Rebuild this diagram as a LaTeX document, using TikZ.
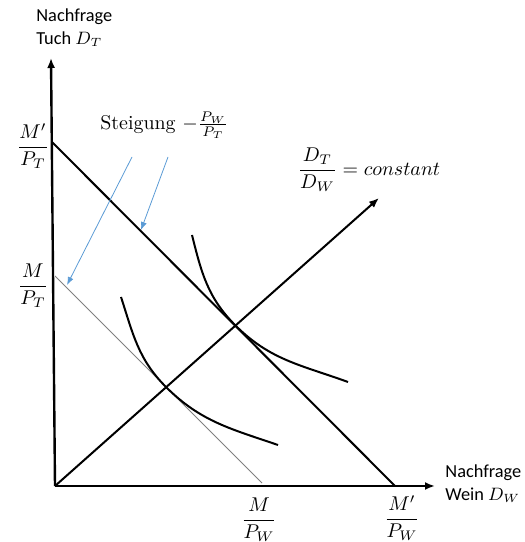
\documentclass[tikz,border=0pt]{standalone}
\usepackage{fontspec}
\usepackage{amsmath}
\newfontfamily\calibri{Carlito}
\usetikzlibrary{arrows.meta}
\definecolor{slopeblue}{RGB}{91,155,213}

\tikzset{
    axis/.style={line width=1.2bp},
    budget/.style={line width=1bp},
    oldbudget/.style={gray, line width=0.4bp},
    indiff/.style={line width=1bp},
    slopearrow/.style={slopeblue, line width=0.4bp, -{Latex[length=4bp,width=3bp]}},
    axislabel/.style={font=\calibri\fontsize{9.2}{11.5}\selectfont, align=left, inner sep=0pt}
}

\begin{document}
\begin{tikzpicture}[x=0.5bp, y=0.5bp,
        font=\fontsize{10}{12}\selectfont,
        >={Latex[length=5bp,width=4bp]}
    ]
    \useasboundingbox (-55,-56) rectangle (470,486);

    % Axes
    \coordinate (O) at (0,0);
    \coordinate (ytip) at (-4,428);
    \coordinate (xtip) at (380,0);
    \draw[axis, ->] (O) -- (ytip);
    \draw[axis, ->] (O) -- (xtip);
    \node[axislabel, anchor=west] (ylab) at (-19,458) {Nachfrage\\Tuch $D_T$};
    \node[axislabel, anchor=west] (xlab) at (390,2) {Nachfrage\\Wein $D_W$};

    % Budget lines
    \coordinate (mtone) at (-3,344);
    \coordinate (mwone) at (340,0);
    \coordinate (mtzero) at (0,210);
    \coordinate (mwzero) at (207,3);
    \draw[budget] (mtone) -- (mwone);
    \draw[oldbudget] (mtzero) -- (mwzero);

    \node (mtonelab) at (-22,340) {$\dfrac{M'}{P_T}$};
    \node (mtzerolab) at (-22,200) {$\dfrac{M}{P_T}$};
    \node (mwzerolab) at (204,-34) {$\dfrac{M}{P_W}$};
    \node (mwonelab) at (347,-32) {$\dfrac{M'}{P_W}$};

    % Ray D_T / D_W
    \coordinate (raytip) at (324,288);
    \draw[budget, ->] (O) -- (raytip);
    \node (raylab) at (314,316) {$\dfrac{D_T}{D_W} = constant$};

    % Indifference curves
    \coordinate (Eone) at (180.5,160.5);
    \coordinate (Ezero) at (111,99);
    \coordinate (uones) at (137,251);
    \coordinate (uonee) at (293,104);
    \coordinate (uzeros) at (66,189);
    \coordinate (uzeroe) at (223,41);
    \draw[indiff] (uones) to[out=-76,in=135] (Eone) to[out=-45,in=160] (uonee);
    \draw[indiff] (uzeros) to[out=-72,in=135] (Ezero) to[out=-45,in=161] (uzeroe);

    % Slope
    \node[anchor=west, inner sep=0pt] (slopelab) at (45,361) {Steigung $-\frac{P_W}{P_T}$};
    \coordinate (sone) at (77,329);
    \coordinate (soneend) at (12,201);
    \coordinate (stwo) at (113,329);
    \coordinate (stwoend) at (86,256);
    \draw[slopearrow] (sone) -- (soneend);
    \draw[slopearrow] (stwo) -- (stwoend);

\end{tikzpicture}
\end{document}
